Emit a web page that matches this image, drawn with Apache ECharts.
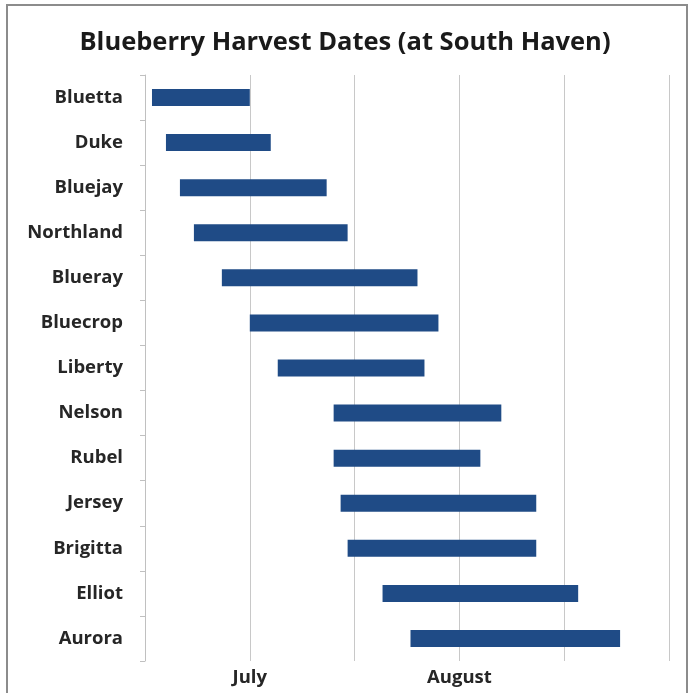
<!DOCTYPE html>
<html>
<head>
<meta charset="utf-8">
<script src="https://cdn.jsdelivr.net/npm/echarts@6/dist/echarts.min.js"></script>
<style>html,body{margin:0;padding:0;background:#fff}#c{width:690px;height:693px}</style>
</head>
<body>
<div id="c"></div>
<script>
// Harvest varieties (top to bottom)
const varieties = ['Bluetta','Duke','Bluejay','Northland','Blueray','Bluecrop','Liberty','Nelson','Rubel','Jersey','Brigitta','Elliot','Aurora'];
// Harvest start / end dates
const startDates = ['06-17','06-19','06-21','06-23','06-27','07-01','07-05','07-13','07-13','07-14','07-15','07-20','07-24'];
const endDates   = ['07-01','07-04','07-12','07-15','07-25','07-28','07-26','08-06','08-03','08-11','08-11','08-17','08-23'];
// Axis: days counted from June 16; labelled ticks
const axisOrigin = '06-16';
const tickLabels = {15: 'July', 45: 'August'};

function dayOf(md){
  const [m,d] = md.split('-').map(Number);
  return Date.UTC(2013, m-1, d) / 86400000;
}
const o = dayOf(axisOrigin);
const startVals = startDates.map(s => dayOf(s) - o);
const spanVals = endDates.map((e,i) => dayOf(e) - o - startVals[i]);

const font = '"Open Sans", Lato, sans-serif';
const chart = echarts.init(document.getElementById('c'));
chart.setOption({
  backgroundColor: '#fff',
  animation: false,
  title: {
    text: 'Blueberry Harvest Dates (at South Haven)',
    left: 'center', top: 25,
    textStyle: {fontFamily: font, fontWeight: 'bold', fontSize: 25.5, color: '#1a1a1a'}
  },
  graphic: [{
    type: 'rect', shape: {x: 7, y: 5, width: 680, height: 700},
    style: {fill: 'none', stroke: '#8c8c8c', lineWidth: 2}, silent: true
  }],
  grid: {left: 145, right: 21, top: 75, bottom: 32, containLabel: false},
  xAxis: {
    type: 'value', min: 0, max: 75, interval: 15,
    axisLine: {show: false}, axisTick: {show: false},
    splitLine: {show: true, lineStyle: {color: '#c8c8c8', width: 1}},
    axisLabel: {
      formatter: v => tickLabels[v] || '',
      fontFamily: font, fontWeight: 'bold', fontSize: 18.5, color: '#262626', margin: 7
    }
  },
  yAxis: {
    type: 'category', data: varieties, inverse: true,
    axisLine: {show: true, lineStyle: {color: '#c0c0c0'}},
    axisTick: {show: true, length: 5, lineStyle: {color: '#c0c0c0'}},
    axisLabel: {fontFamily: font, fontWeight: 'bold', fontSize: 18.5, color: '#262626', margin: 22}
  },
  series: [
    {type: 'bar', stack: 'h', data: startVals, itemStyle: {color: 'transparent'}, barWidth: 17, silent: true},
    {type: 'bar', stack: 'h', data: spanVals, itemStyle: {color: '#1F4B86'}, barWidth: 17}
  ]
});
</script>
</body>
</html>
